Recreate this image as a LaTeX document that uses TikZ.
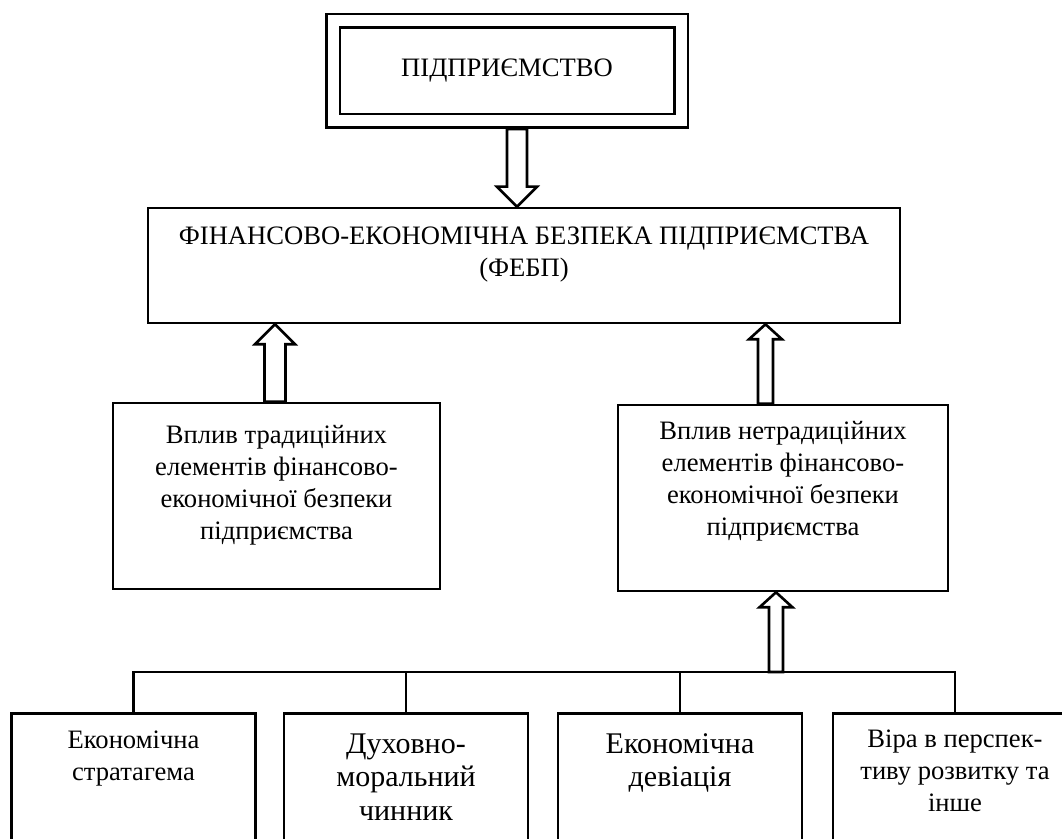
\documentclass[tikz,border=0pt]{standalone}
\usepackage{fontspec}
\setmainfont{Liberation Serif}
\usetikzlibrary{calc}
\usetikzlibrary{positioning}
\tikzstyle{block} = [rectangle, draw=black, line width=1.3pt, inner sep=0pt]
\tikzstyle{txt} = [align=center, inner sep=0pt, anchor=north, font=\fontsize{13.3}{16}\selectfont]
\tikzstyle{bigtxt} = [txt, font=\fontsize{15}{16.8}\selectfont]
\tikzstyle{hollow} = [draw=black, line width=1.3pt, fill=white, line join=miter]
\tikzstyle{wire} = [draw=black, line width=1.3pt]

% hollow block arrow: from, to, half shaft, half head, head length
\newcommand{\blockarrow}[5]{%
  \draw[hollow] let \p1=(#1), \p2=(#2), \n1={ifthenelse(\y2>\y1,1,-1)*#5} in
    ({\x1-#3},\y1) -- ({\x1-#3},{\y2-\n1}) -- ({\x1-#4},{\y2-\n1}) -- (\x1,\y2)
    -- ({\x1+#4},{\y2-\n1}) -- ({\x1+#3},{\y2-\n1}) -- ({\x1+#3},\y1) -- cycle;}

\begin{document}
\begin{tikzpicture}[x=0.5pt, y=-0.5pt]
\useasboundingbox (0,0) rectangle (1062,839);
\clip (0,0) rectangle (1062,839);

\node (firm) [block, double, double distance=5.5pt, outer sep=4pt, minimum width=174pt, minimum height=50pt, font=\fontsize{13.3}{15}\selectfont] at (507,71) {ПІДПРИЄМСТВО};

\node (febp) [block, minimum width=376pt, minimum height=57.5pt] at (524,265.5) {};
\node (febptxt) [txt] at (524,226) {ФІНАНСОВО-ЕКОНОМІЧНА БЕЗПЕКА ПІДПРИЄМСТВА\\(ФЕБП)};

\node (trad) [block, minimum width=163.5pt, minimum height=93pt] at (276.5,496) {};
\node (tradtxt) [txt] at (276.5,425) {Вплив традиційних\\елементів фінансово-\\економічної безпеки\\підприємства};

\node (nontrad) [block, minimum width=165pt, minimum height=93pt] at (783,498) {};
\node (nontradtxt) [txt] at (783,421) {Вплив нетрадиційних\\елементів фінансово-\\економічної безпеки\\підприємства};

% bottom row
\node (strat) [block, anchor=north, minimum width=122pt, minimum height=90pt] at (133.5,712) {};
\node (strattxt) [txt] at (133.5,730) {Економічна\\стратагема};
\node (moral) [block, anchor=north, minimum width=122pt, minimum height=90pt] at (406,712) {};
\node (moraltxt) [bigtxt] at (406,733) {Духовно-\\моральний\\чинник};
\node (dev) [block, anchor=north, minimum width=122pt, minimum height=90pt] at (680,712) {};
\node (devtxt) [bigtxt] at (680,733) {Економічна\\девіація};
\node (faith) [block, anchor=north, minimum width=122pt, minimum height=90pt] at (955,712) {};
\node (faithtxt) [txt] at (955,729) {Віра в перспек-\\тиву розвитку та\\інше};

\coordinate (bus) at (776,672);
\coordinate (c1) at (517,0);
\coordinate (c2) at (275,0);
\coordinate (c3) at (765.5,0);

\draw[wire] (strat.north) -- (strat.north |- bus) -- (faith.north |- bus) -- (faith.north);
\draw[wire] (moral.north) -- (moral.north |- bus);
\draw[wire] (dev.north) -- (dev.north |- bus);

\blockarrow{firm.south -| c1}{febp.north -| c1}{5pt}{10pt}{10pt}
\blockarrow{trad.north -| c2}{febp.south -| c2}{5.25pt}{10pt}{10pt}
\blockarrow{nontrad.north -| c3}{febp.south -| c3}{3.75pt}{8.25pt}{7.5pt}
\blockarrow{bus}{nontrad.south -| bus}{3.5pt}{8.25pt}{7.5pt}
\end{tikzpicture}
\end{document}
